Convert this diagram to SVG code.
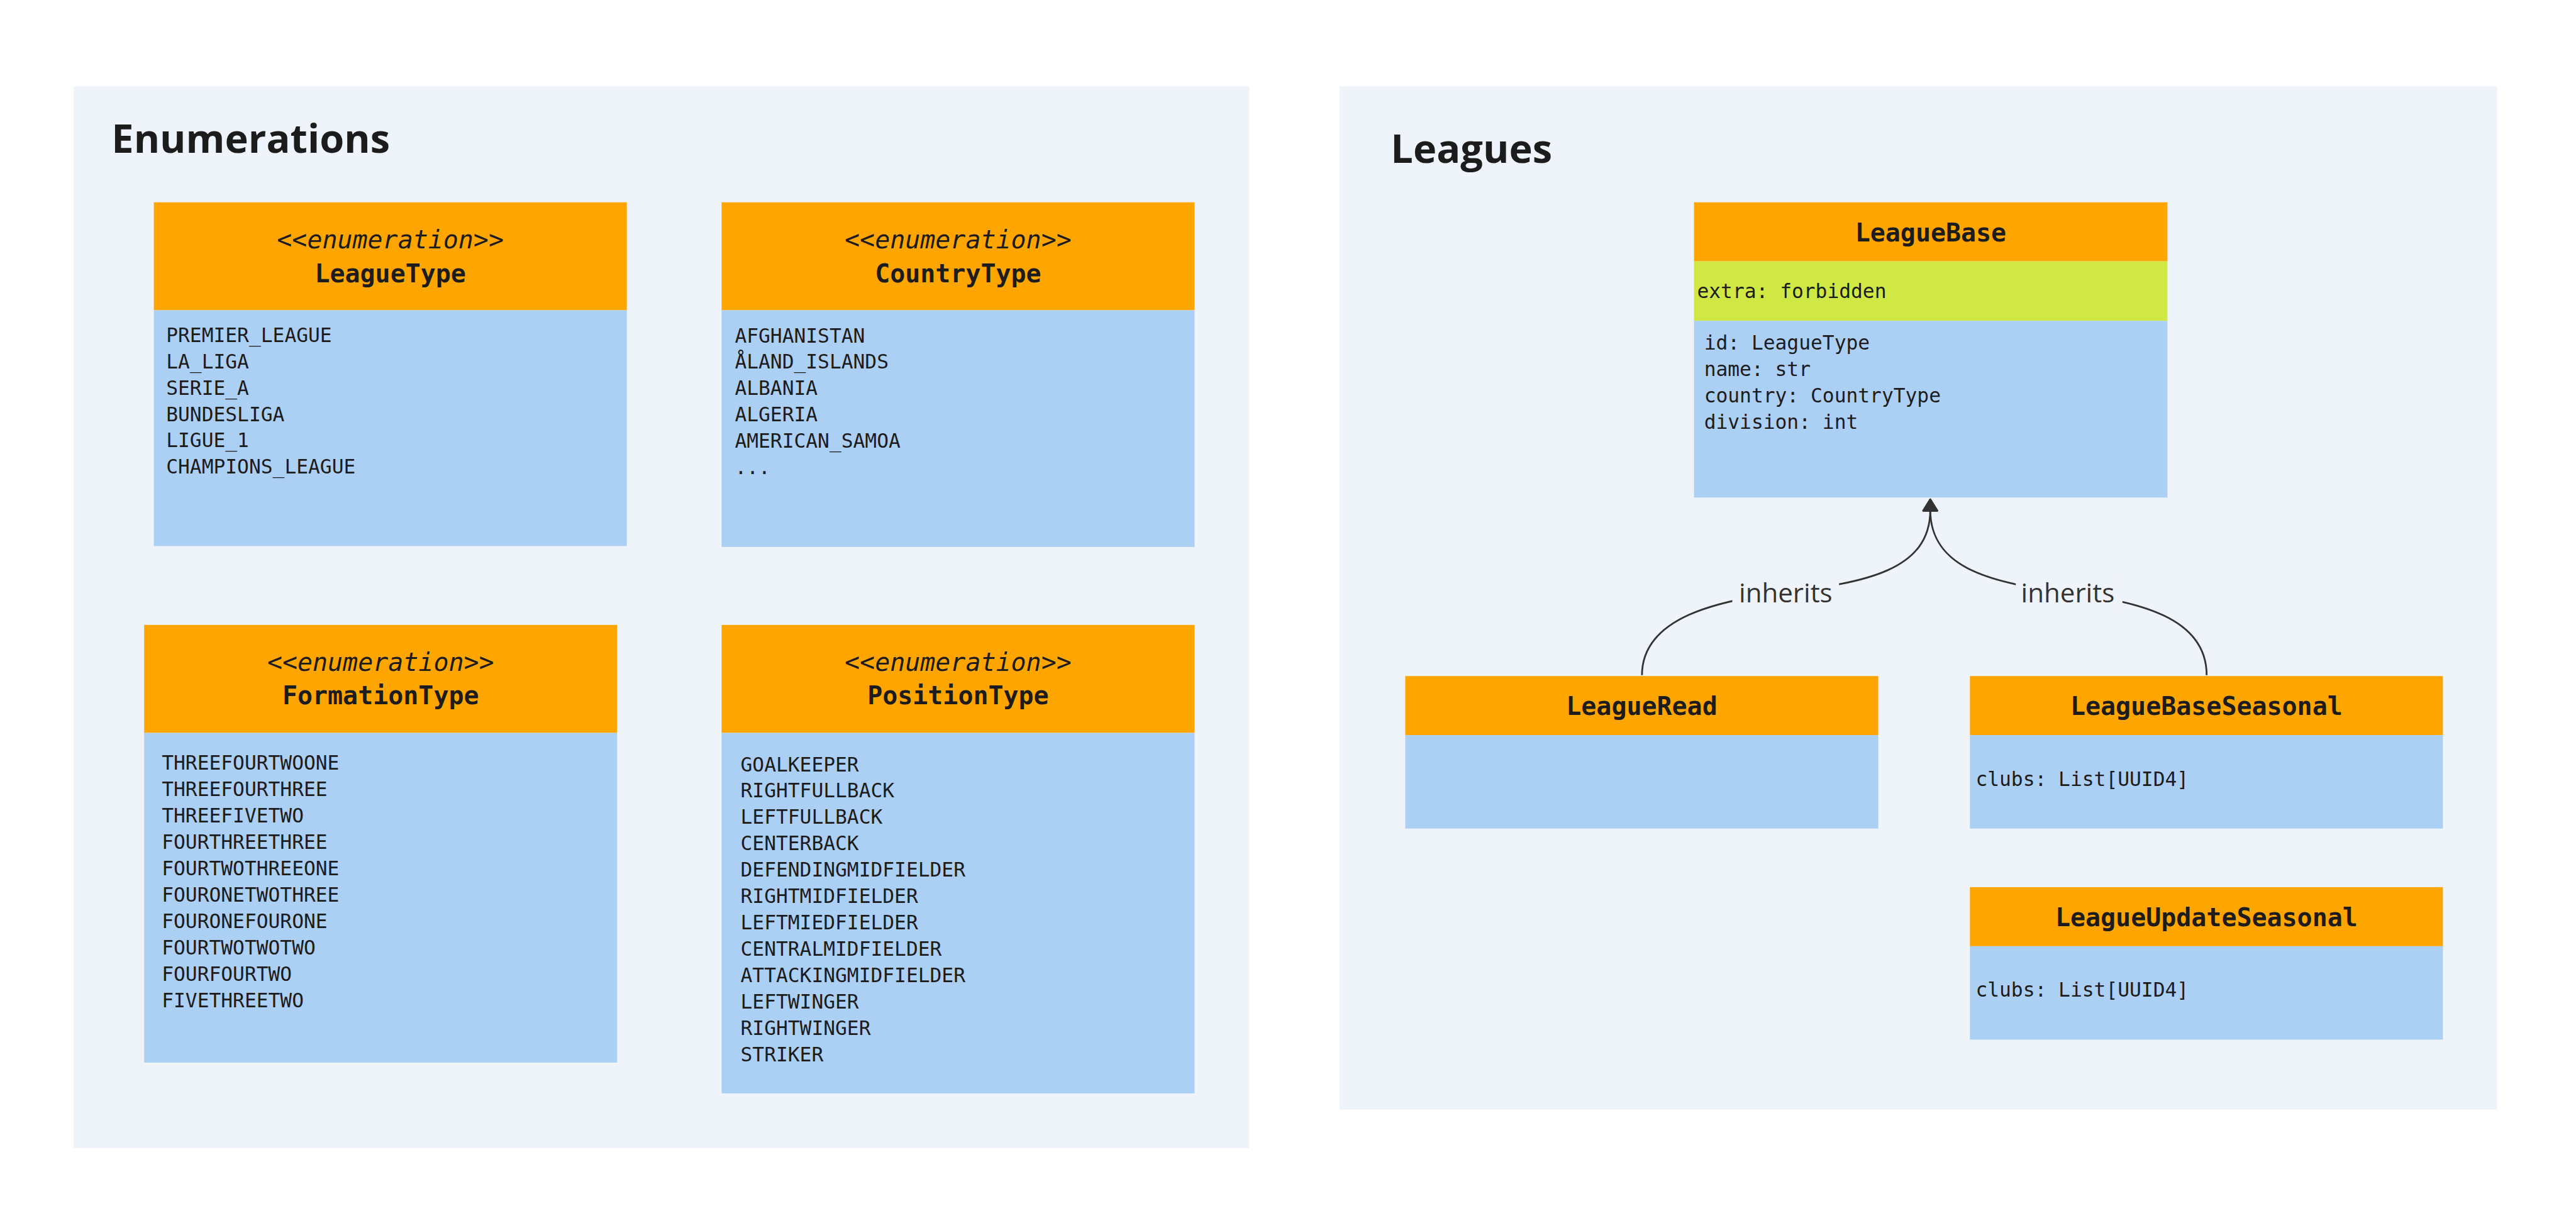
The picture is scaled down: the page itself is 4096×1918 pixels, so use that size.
<svg xmlns="http://www.w3.org/2000/svg" width="4096" height="1918" viewBox="0 0 4096 1918">
<style>
.panel{fill:#eff3fa}
.hdr{fill:#ffa500}
.body{fill:#accff4}
.extra{fill:#cfe843}
.ttl{font-family:"Open Sans","Noto Sans",sans-serif;font-weight:700;font-size:90px;fill:#1c1c1c}
.st{font-family:"DejaVu Sans Mono","Liberation Mono",monospace;font-style:italic;font-size:57px;text-anchor:middle;fill:#1c1c1c}
.nm{font-family:"DejaVu Sans Mono","Liberation Mono",monospace;font-weight:700;font-size:57px;text-anchor:middle;fill:#1c1c1c}
.it{font-family:"DejaVu Sans Mono","Liberation Mono",monospace;font-size:44.6px;fill:#1c1c1c}
.edge{fill:none;stroke:#333;stroke-width:4}
.lbl{font-family:"Open Sans","Noto Sans",sans-serif;font-size:60px;text-anchor:middle;fill:#333}
.lblbg{fill:#eff3fa}
</style>
<defs>
<marker id="arrow" viewBox="0 0 30 36" refX="4" refY="18" markerWidth="30" markerHeight="36" markerUnits="userSpaceOnUse" orient="auto" overflow="visible">
<path d="M2,2 L28,18 L2,34 Z" fill="#333" stroke="#333" stroke-width="4" stroke-linejoin="round"/>
</marker>
</defs>
<rect width="4096" height="1918" fill="#ffffff"/>
<g transform="scale(0.7009)">
<g id="panel-enumerations">
<rect class="panel" x="167" y="196" width="2667" height="2409"/>
<text class="ttl" x="253" y="347">Enumerations</text>
</g>
<g id="panel-leagues">
<rect class="panel" x="3039" y="196" width="2626" height="2322"/>
<text class="ttl" x="3155" y="370">Leagues</text>
</g>

<g id="LeagueType">
<rect class="hdr" x="349" y="459" width="1073" height="245"/>
<rect class="body" x="349" y="704" width="1073" height="535"/>
<text class="st" x="885.5" y="564">&lt;&lt;enumeration&gt;&gt;</text>
<text class="nm" x="885.5" y="640">LeagueType</text>
<text class="it"><tspan x="377" y="776">PREMIER_LEAGUE</tspan><tspan x="377" y="835.75">LA_LIGA</tspan><tspan x="377" y="895.5">SERIE_A</tspan><tspan x="377" y="955.25">BUNDESLIGA</tspan><tspan x="377" y="1015">LIGUE_1</tspan><tspan x="377" y="1074.75">CHAMPIONS_LEAGUE</tspan></text>
</g>

<g id="CountryType">
<rect class="hdr" x="1637" y="459" width="1073" height="245"/>
<rect class="body" x="1637" y="704" width="1073" height="537"/>
<text class="st" x="2173.5" y="564">&lt;&lt;enumeration&gt;&gt;</text>
<text class="nm" x="2173.5" y="640">CountryType</text>
<text class="it"><tspan x="1667" y="777">AFGHANISTAN</tspan><tspan x="1667" y="836.75">ÅLAND_ISLANDS</tspan><tspan x="1667" y="896.5">ALBANIA</tspan><tspan x="1667" y="956.25">ALGERIA</tspan><tspan x="1667" y="1016">AMERICAN_SAMOA</tspan><tspan x="1667" y="1075.75">...</tspan></text>
</g>

<g id="FormationType">
<rect class="hdr" x="327" y="1418" width="1073" height="245"/>
<rect class="body" x="327" y="1663" width="1073" height="748"/>
<text class="st" x="863.5" y="1522">&lt;&lt;enumeration&gt;&gt;</text>
<text class="nm" x="863.5" y="1598">FormationType</text>
<text class="it"><tspan x="367" y="1746">THREEFOURTWOONE</tspan><tspan x="367" y="1805.9">THREEFOURTHREE</tspan><tspan x="367" y="1865.8">THREEFIVETWO</tspan><tspan x="367" y="1925.7">FOURTHREETHREE</tspan><tspan x="367" y="1985.6">FOURTWOTHREEONE</tspan><tspan x="367" y="2045.5">FOURONETWOTHREE</tspan><tspan x="367" y="2105.4">FOURONEFOURONE</tspan><tspan x="367" y="2165.3">FOURTWOTWOTWO</tspan><tspan x="367" y="2225.2">FOURFOURTWO</tspan><tspan x="367" y="2285.1">FIVETHREETWO</tspan></text>
</g>

<g id="PositionType">
<rect class="hdr" x="1637" y="1418" width="1073" height="245"/>
<rect class="body" x="1637" y="1663" width="1073" height="818"/>
<text class="st" x="2173.5" y="1522">&lt;&lt;enumeration&gt;&gt;</text>
<text class="nm" x="2173.5" y="1598">PositionType</text>
<text class="it"><tspan x="1680" y="1750">GOALKEEPER</tspan><tspan x="1680" y="1809.8">RIGHTFULLBACK</tspan><tspan x="1680" y="1869.6">LEFTFULLBACK</tspan><tspan x="1680" y="1929.4">CENTERBACK</tspan><tspan x="1680" y="1989.2">DEFENDINGMIDFIELDER</tspan><tspan x="1680" y="2049">RIGHTMIDFIELDER</tspan><tspan x="1680" y="2108.8">LEFTMIEDFIELDER</tspan><tspan x="1680" y="2168.6">CENTRALMIDFIELDER</tspan><tspan x="1680" y="2228.4">ATTACKINGMIDFIELDER</tspan><tspan x="1680" y="2288.2">LEFTWINGER</tspan><tspan x="1680" y="2348">RIGHTWINGER</tspan><tspan x="1680" y="2407.8">STRIKER</tspan></text>
</g>

<g id="LeagueBase">
<rect class="hdr" x="3843" y="459" width="1074" height="134"/>
<rect class="extra" x="3843" y="593" width="1074" height="135"/>
<rect class="body" x="3843" y="728" width="1074" height="401"/>
<text class="nm" x="4380" y="548">LeagueBase</text>
<text class="it" x="3850" y="676">extra: forbidden</text>
<text class="it"><tspan x="3866" y="793">id: LeagueType</tspan><tspan x="3866" y="852.8">name: str</tspan><tspan x="3866" y="912.6">country: CountryType</tspan><tspan x="3866" y="972.4">division: int</tspan></text>
</g>

<g id="LeagueRead">
<rect class="hdr" x="3188" y="1534" width="1073" height="134"/>
<rect class="body" x="3188" y="1668" width="1073" height="212"/>
<text class="nm" x="3724.5" y="1622">LeagueRead</text>
</g>

<g id="LeagueBaseSeasonal">
<rect class="hdr" x="4469" y="1534" width="1073" height="134"/>
<rect class="body" x="4469" y="1668" width="1073" height="212"/>
<text class="nm" x="5005.5" y="1622">LeagueBaseSeasonal</text>
<text class="it" x="4482" y="1784">clubs: List[UUID4]</text>
</g>

<g id="LeagueUpdateSeasonal">
<rect class="hdr" x="4469" y="2013" width="1073" height="134"/>
<rect class="body" x="4469" y="2147" width="1073" height="212"/>
<text class="nm" x="5005.5" y="2101">LeagueUpdateSeasonal</text>
<text class="it" x="4482" y="2262">clubs: List[UUID4]</text>
</g>

<g id="connectors">
<path class="edge" d="M3725,1532 C3725,1400 3900,1362 4052,1343 C4230,1322 4379,1295 4379,1157" marker-end="url(#arrow)"/>
<path class="edge" d="M5006,1532 C5006,1400 4850,1365 4692,1345 C4530,1324 4379,1295 4379,1157" marker-end="url(#arrow)"/>
<rect class="lblbg" x="3930" y="1305" width="242" height="80"/>
<text class="lbl" x="4051" y="1367">inherits</text>
<rect class="lblbg" x="4573" y="1305" width="242" height="80"/>
<text class="lbl" x="4691" y="1367">inherits</text>
</g>
</g>
</svg>
